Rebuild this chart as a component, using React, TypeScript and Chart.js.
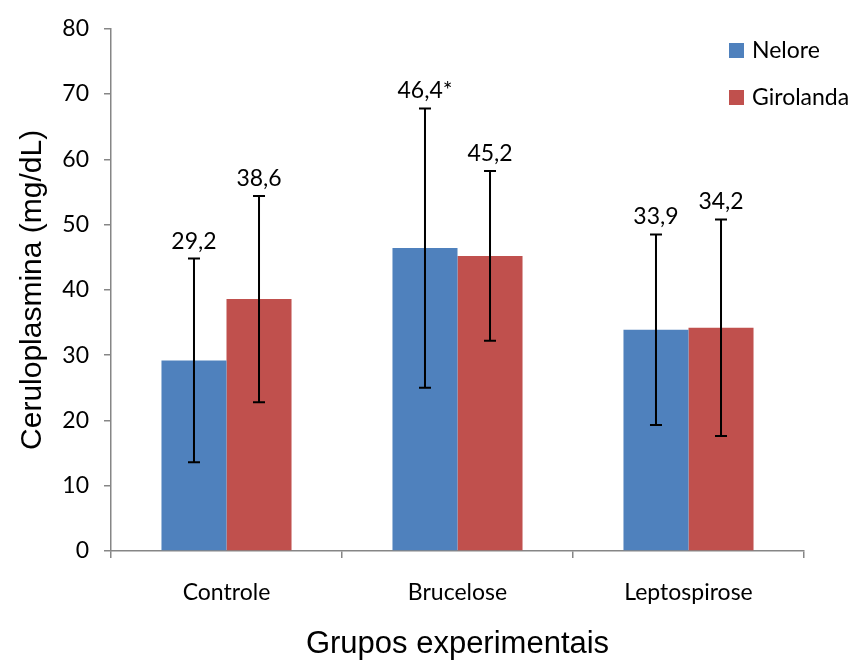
import React, { useEffect, useRef } from "react";
import { Chart, registerables } from "chart.js";

Chart.register(...registerables);

// Experimental groups and the two breeds
const groups = ["Controle", "Brucelose", "Leptospirose"];
const seriesNames = ["Nelore", "Girolanda"];

// Mean ceruloplasmin (mg/dL) per group
const neloreMeans = [29.2, 46.4, 33.9];
const girolandaMeans = [38.6, 45.2, 34.2];

// Standard deviations (error bars)
const neloreSD = [15.6, 21.4, 14.6];
const girolandaSD = [15.8, 13.0, 16.6];

// Significance markers appended to the value labels
const neloreMarks = ["", "*", ""];
const girolandaMarks = ["", "", ""];

const seriesColors = ["#4F81BD", "#C0504D"];

const Y_MIN = 0;
const Y_MAX = 80;
const Y_STEP = 10;

const AXIS_GRAY = "#868686";
const LABEL_FONT = "Lato, 'Open Sans', sans-serif";
const TITLE_FONT = "'Liberation Sans', Arial, sans-serif";

const fmt = (v: number) => v.toFixed(1).replace(".", ",");

// Draws the SD whiskers and the mean label above each whisker
const errorBarsAndLabels = {
  id: "errorBarsAndLabels",
  afterDatasetsDraw(chart: any) {
    const { ctx } = chart;
    const yScale = chart.scales.y;
    chart.data.datasets.forEach((ds: any, di: number) => {
      const meta = chart.getDatasetMeta(di);
      meta.data.forEach((bar: any, i: number) => {
        const v = ds.data[i] as number;
        const sd = ds.sd[i] as number;
        const x = bar.x;
        const yTop = yScale.getPixelForValue(v + sd);
        const yBot = yScale.getPixelForValue(v - sd);
        const cap = 6;
        ctx.save();
        ctx.strokeStyle = "#000";
        ctx.lineWidth = 2;
        ctx.beginPath();
        ctx.moveTo(x, yTop);
        ctx.lineTo(x, yBot);
        ctx.moveTo(x - cap, yTop);
        ctx.lineTo(x + cap, yTop);
        ctx.moveTo(x - cap, yBot);
        ctx.lineTo(x + cap, yBot);
        ctx.stroke();
        ctx.font = `23px ${LABEL_FONT}`;
        ctx.fillStyle = "#000";
        ctx.textAlign = "center";
        ctx.textBaseline = "alphabetic";
        ctx.fillText(fmt(v) + (ds.marks[i] || ""), x, yTop - 10);
        ctx.restore();
      });
    });
  },
};

// Vertical legend placed inside the plot, top right
const insideLegend = {
  id: "insideLegend",
  afterDraw(chart: any) {
    const { ctx } = chart;
    const left = chart.width - 126;
    const top = 43;
    const box = 15;
    const gap = 47;
    ctx.save();
    chart.data.datasets.forEach((ds: any, i: number) => {
      const y = top + i * gap;
      ctx.fillStyle = ds.backgroundColor;
      ctx.fillRect(left, y, box, box);
      ctx.fillStyle = "#000";
      ctx.font = `23px ${LABEL_FONT}`;
      ctx.textAlign = "left";
      ctx.textBaseline = "alphabetic";
      ctx.fillText(ds.label, left + box + 8, y + box);
    });
    ctx.restore();
  },
};

export default function App() {
  const canvasRef = useRef<HTMLCanvasElement | null>(null);

  useEffect(() => {
    let chart: Chart | null = null;
    let cancelled = false;

    const build = () => {
      if (cancelled || !canvasRef.current) return;
      chart = new Chart(canvasRef.current, {
        type: "bar",
        data: {
          labels: groups,
          datasets: [
            {
              label: seriesNames[0],
              data: neloreMeans,
              backgroundColor: seriesColors[0],
              sd: neloreSD,
              marks: neloreMarks,
            } as any,
            {
              label: seriesNames[1],
              data: girolandaMeans,
              backgroundColor: seriesColors[1],
              sd: girolandaSD,
              marks: girolandaMarks,
            } as any,
          ],
        },
        options: {
          animation: false,
          responsive: true,
          maintainAspectRatio: false,
          devicePixelRatio: 1,
          layout: { padding: { top: 26, right: 51, bottom: 0, left: 0 } },
          datasets: {
            bar: { categoryPercentage: 0.563, barPercentage: 1.0 },
          },
          plugins: {
            legend: { display: false },
            tooltip: { enabled: false },
          },
          scales: {
            x: {
              grid: {
                display: true,
                offset: true,
                drawOnChartArea: false,
                drawTicks: true,
                tickLength: 7,
                color: AXIS_GRAY,
                lineWidth: 1.5,
              },
              border: { display: true, color: AXIS_GRAY, width: 1.5 },
              ticks: {
                color: "#000",
                font: { family: LABEL_FONT, size: 23 },
                padding: 21,
              },
              title: {
                display: true,
                text: "Grupos experimentais",
                color: "#000",
                font: { family: TITLE_FONT, size: 31, lineHeight: 1 },
                padding: { top: 0, bottom: 0 },
              },
              afterFit: (scale: any) => {
                scale.height = 109;
              },
            },
            y: {
              min: Y_MIN,
              max: Y_MAX,
              grid: {
                display: true,
                drawOnChartArea: false,
                drawTicks: true,
                tickLength: 7,
                color: AXIS_GRAY,
                lineWidth: 1.5,
              },
              border: { display: true, color: AXIS_GRAY, width: 1.5 },
              ticks: {
                stepSize: Y_STEP,
                color: "#000",
                font: { family: LABEL_FONT, size: 23 },
                padding: 15,
              },
              title: {
                display: true,
                text: "Ceruloplasmina (mg/dL)",
                color: "#000",
                font: { family: TITLE_FONT, size: 30 },
                padding: { top: 15, bottom: 0 },
              },
              afterFit: (scale: any) => {
                scale.width = 111;
              },
            },
          },
        },
        plugins: [errorBarsAndLabels, insideLegend],
      });
    };

    const fontsReady = (document as any).fonts
      ? Promise.all([
          (document as any).fonts.load(`23px Lato`),
          (document as any).fonts.load(`30px 'Liberation Sans'`),
        ]).catch(() => null)
      : Promise.resolve(null);
    fontsReady.then(build);

    return () => {
      cancelled = true;
      if (chart) chart.destroy();
    };
  }, []);

  return (
    <div
      style={{
        position: "absolute",
        left: 0,
        top: 0,
        width: 855,
        height: 660,
        background: "#fff",
      }}
    >
      <canvas ref={canvasRef} />
    </div>
  );
}
